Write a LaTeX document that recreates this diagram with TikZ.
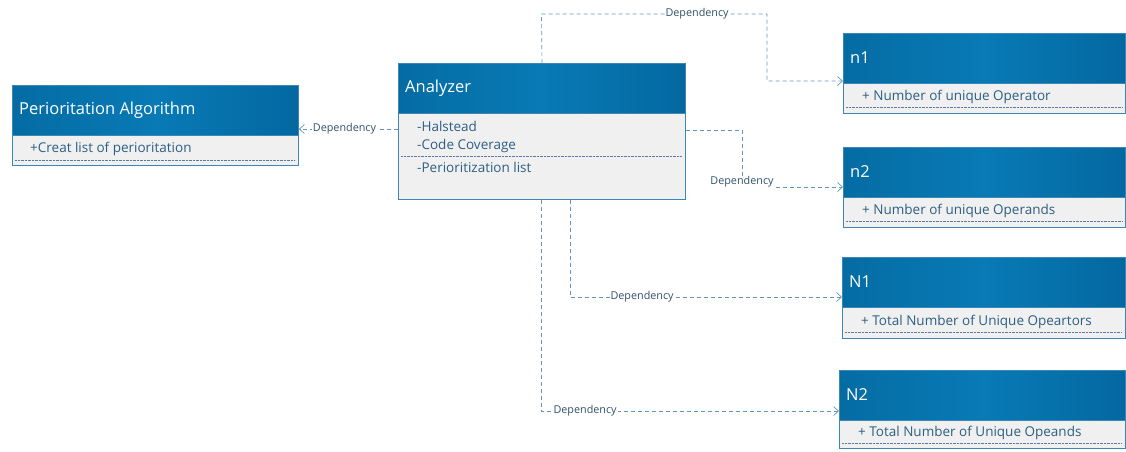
\documentclass[tikz,border=0pt]{standalone}
\usepackage{fontspec}
\setmainfont{Open Sans}
\usetikzlibrary{arrows.meta,calc}
\definecolor{hdrL}{RGB}{5,108,163}
\definecolor{hdrM}{RGB}{8,122,182}
\definecolor{hdrR}{RGB}{4,104,160}
\definecolor{bord}{RGB}{60,135,180}
\definecolor{bodyf}{RGB}{240,240,241}
\definecolor{bodyt}{RGB}{45,95,130}
\definecolor{depc}{RGB}{100,150,185}
\definecolor{labc}{RGB}{50,80,105}
\definecolor{dotc}{RGB}{90,120,160}
\begin{document}
\begin{tikzpicture}[x=1pt,y=-1pt,
  classbox/.style={draw=bord, line width=0.9pt, fill=bodyf, anchor=north west, inner sep=0pt},
  hdr/.style={draw=bord, line width=0.9pt, left color=hdrL, right color=hdrR, middle color=hdrM, anchor=north west, minimum height=50pt, inner sep=0pt},
  htxt/.style={anchor=west, inner sep=0pt, text=white, font=\fontsize{16.5}{18}\selectfont},
  btxt/.style={anchor=west, inner sep=0pt, text=bodyt, font=\fontsize{13.5}{15}\selectfont},
  sepline/.style={draw=dotc, line width=0.6pt, dash pattern=on 0.6pt off 0.8pt},
  dep/.style={draw=depc, line width=0.7pt, dash pattern=on 4pt off 3pt, -{Straight Barb[length=5pt,width=9pt]}},
  lab/.style={fill=white, inner sep=1pt, text=labc, font=\fontsize{10.8}{12}\selectfont}]
\useasboundingbox (0,0) rectangle (1126,451);

% Perioritation Algorithm
\node[classbox, minimum width=286pt, minimum height=80pt] (pa) at (12,85) {};
\node[hdr, minimum width=286pt] (pah) at (pa.north west) {};
\node[htxt] (pat) at (19,110) {Perioritation Algorithm};
\node[btxt] (pa1) at (30,149) {+Creat list of perioritation};
\draw[sepline] (15,160) -- (295,160);

% Analyzer
\node[classbox, minimum width=287pt, minimum height=136pt] (an) at (398,63) {};
\node[hdr, minimum width=287pt] (anh) at (an.north west) {};
\node[htxt] (ant) at (405,88) {Analyzer};
\node[btxt] (an1) at (417,126) {-Halstead};
\node[btxt] (an2) at (417,146) {-Code Coverage};
\draw[sepline] (401,156) -- (682,156);
\node[btxt] (an3) at (417,167) {-Perioritization list};

% n1
\node[classbox, minimum width=282pt, minimum height=80pt] (n1) at (843,33) {};
\node[hdr, minimum width=282pt] (n1h) at (n1.north west) {};
\node[htxt] (n1t) at (850,58) {n1};
\node[btxt] (n1b) at (862,97) {+ Number of unique Operator};
\draw[sepline] (846,107) -- (1122,107);

% n2
\node[classbox, minimum width=282pt, minimum height=80pt] (n2) at (843,147) {};
\node[hdr, minimum width=282pt] (n2h) at (n2.north west) {};
\node[htxt] (n2t) at (850,172) {n2};
\node[btxt] (n2b) at (862,211) {+ Number of unique Operands};
\draw[sepline] (846,221) -- (1122,221);

% N1
\node[classbox, minimum width=283pt, minimum height=81pt] (N1) at (842,257) {};
\node[hdr, minimum width=283pt] (N1h) at (N1.north west) {};
\node[htxt] (N1t) at (849,282) {N1};
\node[btxt] (N1b) at (861,322) {+ Total Number of Unique Opeartors};
\draw[sepline] (845,332) -- (1122,332);

% N2
\node[classbox, minimum width=286pt, minimum height=78pt] (N2) at (839,370) {};
\node[hdr, minimum width=286pt] (N2h) at (N2.north west) {};
\node[htxt] (N2t) at (846,395) {N2};
\node[btxt] (N2b) at (858,433) {+ Total Number of Unique Opeands};
\draw[sepline] (842,443) -- (1122,443);

% connectors
\coordinate (p1) at (0,129);
\draw[dep] (an.west |- p1) -- node[lab, pos=0.54] (l0) {Dependency} (pa.east |- p1);

\coordinate (t1) at (541.5,14);
\coordinate (t2) at (767,14);
\coordinate (t3) at (767,81);
\draw[dep] (an.north) -- (t1) -- node[lab, pos=0.69] (l1) {Dependency} (t2) -- (t3) -- (n1.west |- t3);

\coordinate (q1) at (742,130);
\coordinate (q2) at (742,187);
\draw[dep] (an.east |- q1) -- (q1) -- (q2) node[lab, yshift=5pt] (l2) {Dependency} -- (n2.west |- q2);

\coordinate (r1) at (570,297);
\draw[dep] (an.south -| r1) -- (r1) -- node[lab, pos=0.265] (l3) {Dependency} (N1.west |- r1);

\coordinate (s1) at (541,411);
\draw[dep] (an.south -| s1) -- (s1) -- node[lab, pos=0.148] (l4) {Dependency} (N2.west |- s1);
\end{tikzpicture}
\end{document}
